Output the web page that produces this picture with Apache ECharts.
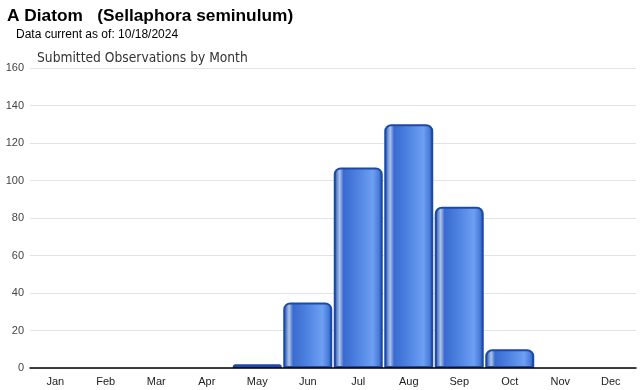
<!DOCTYPE html>
<html><head><meta charset="utf-8">
<script src="https://cdn.jsdelivr.net/npm/echarts@6/dist/echarts.min.js"></script>
<style>html,body{margin:0;padding:0;background:#fff}#c{width:640px;height:390px}</style>
</head><body><div id="c"></div>
<script>
const categories = ['Jan','Feb','Mar','Apr','May','Jun','Jul','Aug','Sep','Oct','Nov','Dec'];
const observations = [0,0,0,0,2,35,107,130,86,10,0,0];
const yTicks = [0,20,40,60,80,100,120,140,160];

const chart = echarts.init(document.getElementById('c'));
const grad = new echarts.graphic.LinearGradient(0,0,1,0,[
  {offset:0,color:'#1a48a8'},
  {offset:0.05,color:'#4f78c8'},
  {offset:0.12,color:'#b0c4e8'},
  {offset:0.2,color:'#3a6ad0'},
  {offset:0.5,color:'#4f84e2'},
  {offset:0.8,color:'#6e9ff2'},
  {offset:0.92,color:'#4a7cda'},
  {offset:1,color:'#1a48a8'}
]);
chart.setOption({
  animation:false,
  title:[
    {text:'A Diatom   (Sellaphora seminulum)',left:2,top:3,textStyle:{fontFamily:'Liberation Sans, Arial',fontSize:17.3,fontWeight:'bold',color:'#000'}},
    {text:'Data current as of: 10/18/2024',left:11,top:24,textStyle:{fontFamily:'Liberation Sans, Arial',fontSize:12,fontWeight:'normal',color:'#000'}},
    {text:'Submitted Observations by Month',left:32,top:46,textStyle:{fontFamily:'DejaVu Sans Condensed, DejaVu Sans',fontSize:13.7,fontWeight:'normal',color:'#333'}}
  ],
  grid:{left:30,right:4,top:68,bottom:22,containLabel:false},
  xAxis:{type:'category',data:categories,z:10,
    axisLine:{lineStyle:{color:'#000',width:1.5}},
    axisTick:{alignWithLabel:true,length:4,lineStyle:{color:'#bbb'}},
    axisLabel:{fontFamily:'Liberation Sans, Arial',fontSize:11,color:'#222',margin:8}},
  yAxis:{type:'value',min:yTicks[0],max:yTicks[yTicks.length-1],interval:20,
    axisLine:{show:false},axisTick:{show:false},
    splitLine:{lineStyle:{color:'#e3e3e3'}},
    axisLabel:{fontFamily:'Liberation Sans, Arial',fontSize:11,color:'#444',margin:6}},
  series:[{type:'bar',data:observations.map(v=>v===0?'-':v),barCategoryGap:'3%',
    itemStyle:{color:grad,borderColor:'#1a4aa6',borderWidth:2,borderRadius:[6,6,0,0]}}]
});
</script></body></html>
